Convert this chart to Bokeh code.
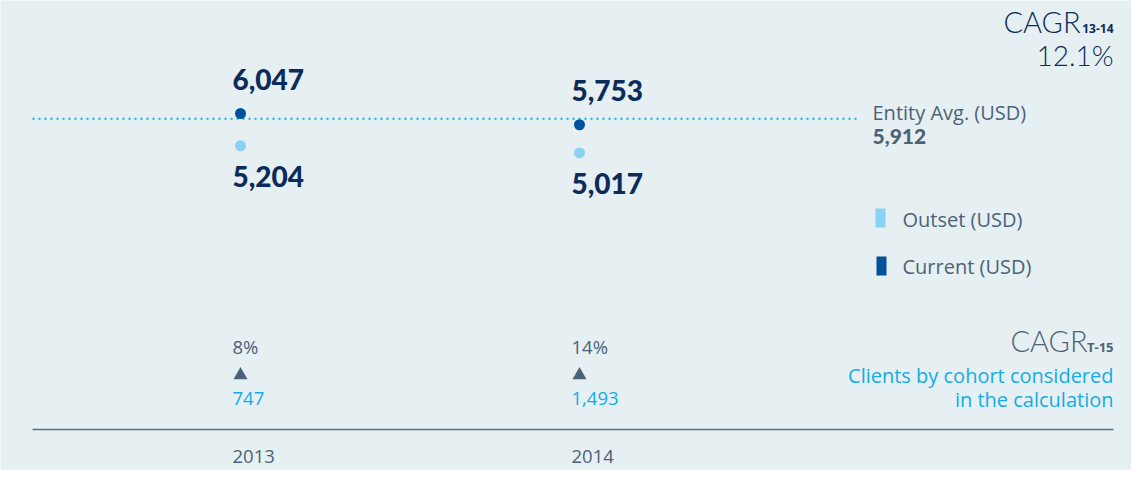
from bokeh.plotting import figure
from bokeh.models import Range1d, Label, BoxAnnotation, ColumnDataSource
from bokeh.core.properties import value
from bokeh.embed import file_html
from bokeh.resources import INLINE

# ---- data ----
years = [2013, 2014]
year_labels = ["2013", "2014"]
outset = [5204, 5017]
current = [6047, 5753]
entity_avg = 5912
cagr_t15 = ["8%", "14%"]
clients = ["747", "1,493"]
cagr_13_14 = "12.1%"

# ---- style ----
BG = "#e6eff1"
NAVY = "#0b2c5b"
SLATE = "#4b6378"
CYAN = "#12ade4"
DARK_DOT = "#00529b"
LIGHT_DOT = "#8ad2f4"
FONT = "Open Sans"
BOLD = "Lato Black"
LIGHT = "Lato Light"
K = 0.4  # baseline correction factor (fraction of font size)

W, H = 1131, 470
PPX = 339.0  # pixels per year
X0 = 2013 - 240 / PPX
X1 = X0 + W / PPX
UPP = 26.11  # value units per pixel
Y_TOP = 6047 + 113 * UPP
Y_BOT = Y_TOP - H * UPP


def px(refx):
    return X0 + refx / PPX


def fy(refy):
    # compress lower panel so it fits in the canvas
    return refy if refy <= 330 else 330 + (refy - 330) * 0.875


p = figure(width=W, height=H, x_range=Range1d(X0, X1), y_range=Range1d(Y_BOT, Y_TOP),
           output_backend="svg", toolbar_location=None, min_border=0,
           background_fill_color=BG, border_fill_color=BG, outline_line_color=None)
p.axis.visible = False
p.grid.visible = False
p.extra_y_ranges = {"panel": Range1d(0, H)}

# entity average dotted line
p.segment(x0=[px(32)], x1=[px(858)], y0=[entity_avg], y1=[entity_avg],
          line_color=CYAN, line_width=2, line_dash="2 4")

# dots
p.scatter(years, outset, size=11, color=LIGHT_DOT, line_color=None)
p.scatter(years, current, size=11, color=DARK_DOT, line_color=None)


def fmt(v):
    return f"{v:,}"


NUM = 28
src_cur = ColumnDataSource(dict(x=years, y=current, t=[fmt(v) for v in current]))
src_out = ColumnDataSource(dict(x=years, y=outset, t=[fmt(v) for v in outset]))
p.text("x", "y", text="t", source=src_cur, x_offset=-8, y_offset=-23 - K * NUM,
       text_font=value(BOLD), text_font_style="bold", text_font_size=f"{NUM}px",
       text_color=NAVY, text_baseline="alphabetic")
p.text("x", "y", text="t", source=src_out, x_offset=-8, y_offset=42 - K * NUM,
       text_font=value(BOLD), text_font_style="bold", text_font_size=f"{NUM}px",
       text_color=NAVY, text_baseline="alphabetic")

# lower panel: CAGR T-15 values, triangles, clients, years
TS = 18.5
src_low = ColumnDataSource(dict(x=years, pct=cagr_t15, cl=clients, yr=year_labels))
p.text("x", H - (fy(357) - K * TS), text="pct", source=src_low, x_offset=-8, y_range_name="panel",
       text_font=value(FONT), text_font_size=f"{TS}px", text_color=SLATE, text_baseline="alphabetic")
p.scatter(years, [H - fy(381)] * len(years), marker="triangle", size=14, color=SLATE,
          line_color=None, y_range_name="panel")
p.text("x", H - (fy(416) - K * TS), text="cl", source=src_low, x_offset=-8, y_range_name="panel",
       text_font=value(FONT), text_font_size=f"{TS}px", text_color=CYAN, text_baseline="alphabetic")
p.text("x", H - (fy(482) - K * TS), text="yr", source=src_low, x_offset=-8, y_range_name="panel",
       text_font=value(FONT), text_font_size=f"{TS}px", text_color=SLATE, text_baseline="alphabetic")

# bottom rule
p.segment(x0=[px(32)], x1=[px(1113)], y0=[H - fy(443)], y1=[H - fy(443)], y_range_name="panel",
          line_color="#56708c", line_width=1.5)


def lab(text, refx, refy, size, color, align="left", bold=False, font=FONT):
    p.add_layout(Label(x=refx, y=H - (fy(refy) - K * size), x_units="screen", y_units="screen",
                       text=text, text_font=font, text_font_size=f"{size}px", text_color=color,
                       text_align=align, text_baseline="alphabetic",
                       text_font_style="bold" if bold else "normal"))


# CAGR 13-14
lab("13-14", 1113, 33, 12, NAVY, align="right", bold=True)
lab("CAGR", 1080, 33, 29, NAVY, align="right", font=LIGHT)
lab(cagr_13_14, 1113, 66, 28, NAVY, align="right", font=LIGHT)

# entity avg
lab("Entity Avg. (USD)", 872, 120, 20, SLATE)
lab(fmt(entity_avg), 872, 144, 21, SLATE, font=BOLD, bold=True)

# legend
p.add_layout(BoxAnnotation(left=875, right=885, top=H - 208, bottom=H - 227,
                           left_units="screen", right_units="screen", top_units="screen",
                           bottom_units="screen", fill_color=LIGHT_DOT, fill_alpha=1, line_color=None))
p.add_layout(BoxAnnotation(left=876, right=886, top=H - 256, bottom=H - 275,
                           left_units="screen", right_units="screen", top_units="screen",
                           bottom_units="screen", fill_color=DARK_DOT, fill_alpha=1, line_color=None))
lab("Outset (USD)", 902, 227, 20, SLATE)
lab("Current (USD)", 902, 274, 20, SLATE)

# CAGR T-15
lab("T-15", 1113, 355, 13, SLATE, align="right", bold=True)
lab("CAGR", 1087, 355, 29, SLATE, align="right", font=LIGHT)
lab("Clients by cohort considered", 1113, 391, 20, CYAN, align="right")
lab("in the calculation", 1113, 418, 20, CYAN, align="right")

open("out.html", "w").write(file_html(p, INLINE))
